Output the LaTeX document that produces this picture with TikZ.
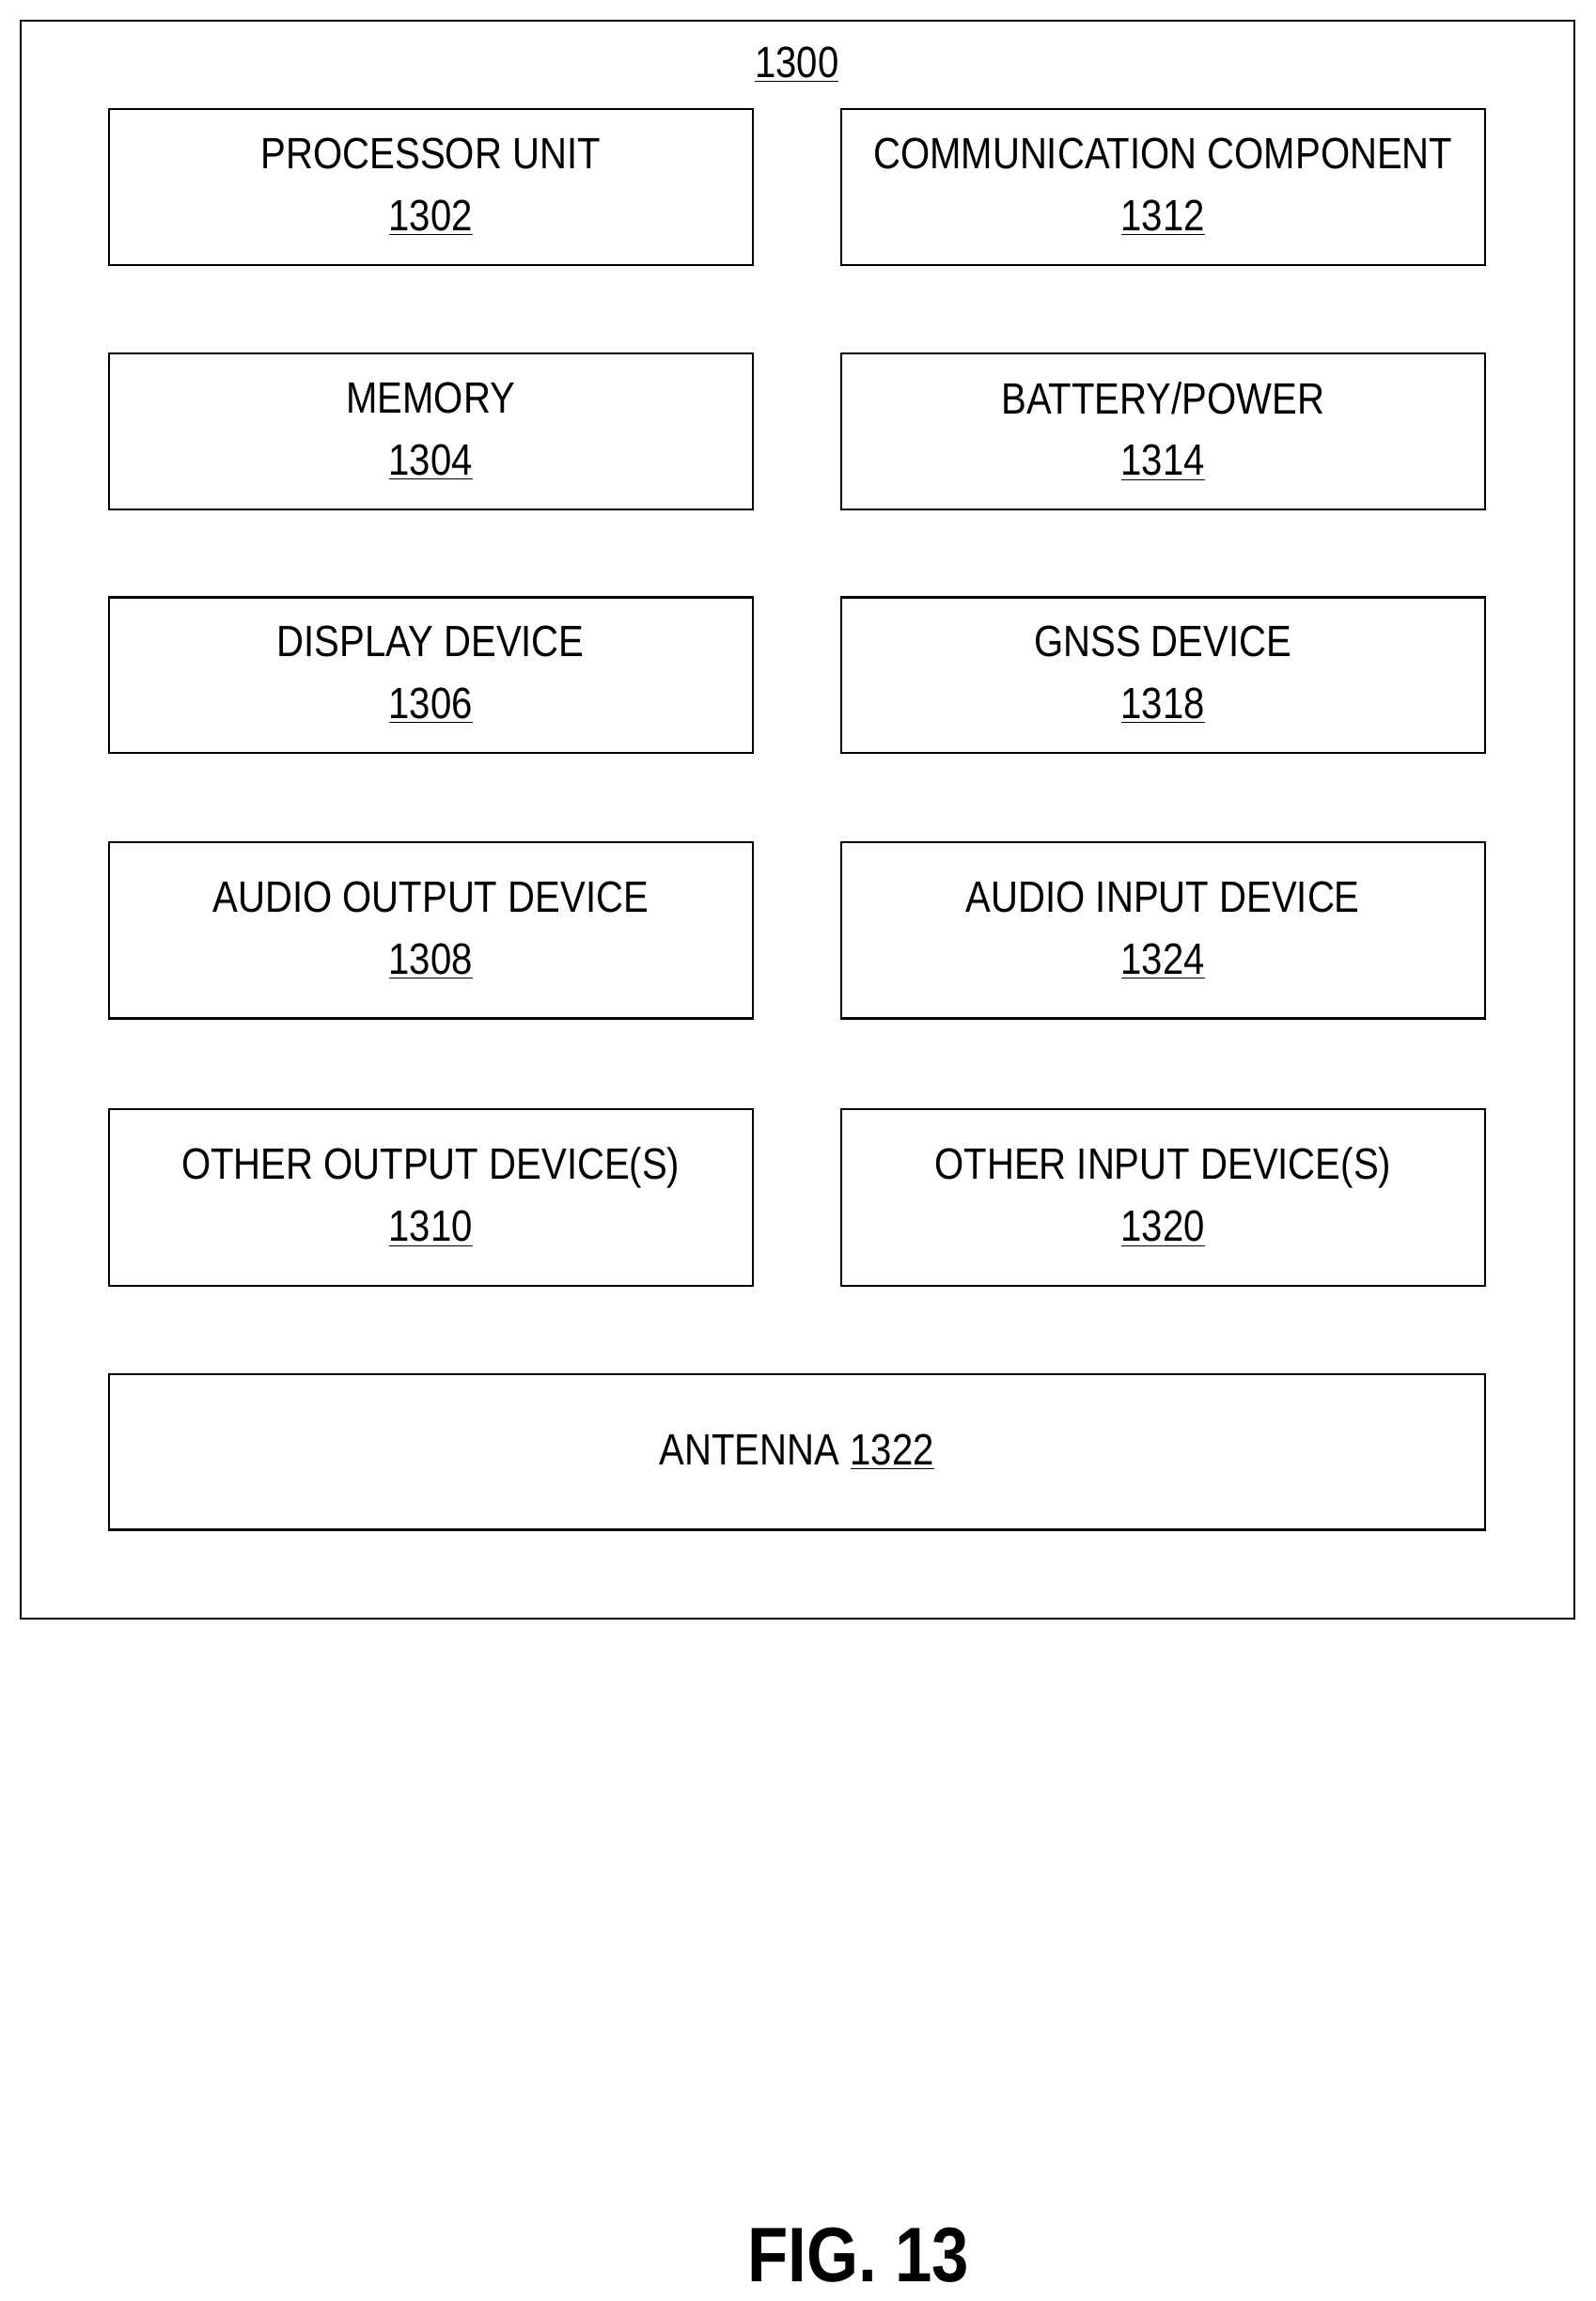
\documentclass[tikz,border=0pt]{standalone}
\usepackage{fontspec}
\setmainfont[FakeStretch=0.86]{Liberation Sans}
\usetikzlibrary{positioning}
\begin{document}
\begin{tikzpicture}[x=0.02cm,y=-0.02cm,
		partbox/.style={rectangle, draw, thick, minimum width=8.78cm, minimum height=2.12cm, align=center, font=\fontsize{17}{24}\selectfont},
		tallbox/.style={partbox, minimum height=2.4cm},
		]
		\useasboundingbox (0,0) rectangle (1087,1568);
		%Outer box
		\node[draw, thick, minimum width=21.18cm, minimum height=21.78cm, inner sep=0pt] (device) at (543.5,558.5) {};
		\node[font=\fontsize{17}{24}\selectfont] (device-label) at (543,44) {\underline{1300}};
		%Nodes
		\node[partbox] (processor) at (293.5,127.5) {PROCESSOR UNIT\\\underline{1302}};
		\node[partbox] (comm)      at (792.5,127.5) {COMMUNICATION COMPONENT\\\underline{1312}};
		\node[partbox] (memory)    at (293.5,294)   {MEMORY\\\underline{1304}};
		\node[partbox] (battery)   at (792.5,294)   {BATTERY/POWER\\\underline{1314}};
		\node[partbox] (display)   at (293.5,460)   {DISPLAY DEVICE\\\underline{1306}};
		\node[partbox] (gnss)      at (792.5,460)   {GNSS DEVICE\\\underline{1318}};
		\node[tallbox] (audio-out) at (293.5,634)   {AUDIO OUTPUT DEVICE\\\underline{1308}};
		\node[tallbox] (audio-in)  at (792.5,634)   {AUDIO INPUT DEVICE\\\underline{1324}};
		\node[tallbox] (other-out) at (293.5,816)   {OTHER OUTPUT DEVICE(S)\\\underline{1310}};
		\node[tallbox] (other-in)  at (792.5,816)   {OTHER INPUT DEVICE(S)\\\underline{1320}};
		\node[partbox, minimum width=18.76cm] (antenna) at (543,989.5) {ANTENNA \underline{1322}};
		%Caption
		\node[font=\fontsize{30}{36}\selectfont\bfseries] (caption) at (585,1537) {FIG. 13};
	\end{tikzpicture}
\end{document}
